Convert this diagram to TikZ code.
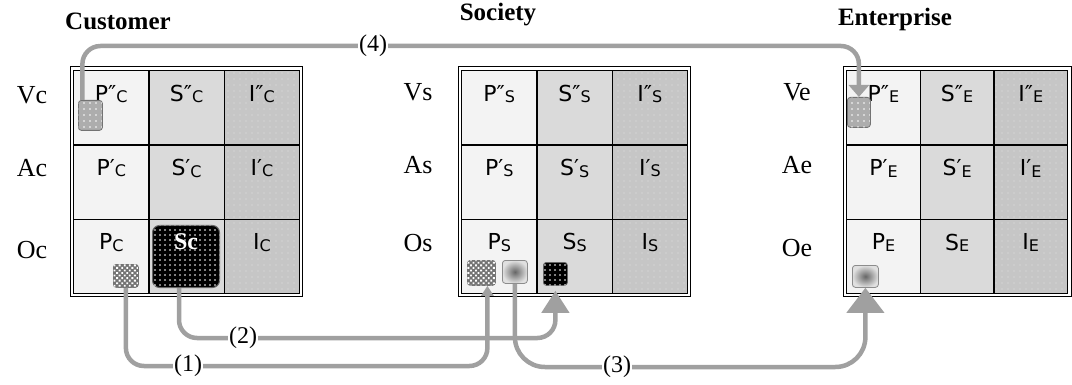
\documentclass[tikz,border=0pt]{standalone}
\usepackage{fontspec}
\setmainfont{Liberation Serif}
\newfontfamily\cellfont{DejaVu Sans}
\usetikzlibrary{arrows.meta,patterns.meta}
\definecolor{cP}{HTML}{F3F3F3}
\definecolor{cS}{HTML}{DADADA}
\definecolor{cI}{HTML}{C6C6C6}
\definecolor{cDot}{HTML}{E2E2E2}
\definecolor{connc}{HTML}{A0A0A0}
\definecolor{boxg}{HTML}{ADADAD}
\newcommand{\sbx}[1]{\raisebox{-1.5pt}{\fontsize{16}{16}\selectfont #1}}
\tikzset{
  frame/.style={draw=black, line width=0.9pt, fill=white, inner sep=0, anchor=north west},
  cellbase/.style={draw=black, line width=1.2pt, inner sep=0, anchor=north west},
  pcell/.style={cellbase, fill=cP},
  scell/.style={cellbase, fill=cS},
  icell/.style={cellbase, fill=cI, postaction={pattern={Dots[distance=6pt,radius=0.6pt]}, pattern color=cDot}, postaction={draw=black, line width=1.2pt}},
  ctext/.style={font=\cellfont\fontsize{22}{22}\selectfont, inner sep=0},
  rlab/.style={font=\fontsize{26}{26}\selectfont, inner sep=0},
  hdr/.style={font=\bfseries\fontsize{25}{25}\selectfont, inner sep=0},
  lab/.style={fill=white, inner sep=1pt, font=\fontsize{24}{24}\selectfont},
  smallbox/.style={inner sep=0, rounded corners=3pt, draw=black!55, line width=0.8pt, anchor=north west},
  dotbox/.style={smallbox, fill=boxg, postaction={pattern={Dots[distance=6pt,radius=0.9pt]}, pattern color=white}},
  hatchbox/.style={smallbox, fill=black!55, postaction={pattern={Dots[distance=3.6pt,radius=1.3pt,angle=45]}, pattern color=white}},
  gradbox/.style={smallbox, draw=black!45, inner color=black!60, outer color=black!12},
  blkbox/.style={smallbox, draw=black!60, fill=black, postaction={pattern={Dots[distance=5pt,radius=0.8pt]}, pattern color=white}},
  scbox/.style={inner sep=0, rounded corners=7pt, draw=black!60, line width=1pt, fill=black, anchor=north west, postaction={pattern={Dots[distance=5pt,radius=0.8pt]}, pattern color=white}},
  conn/.style={draw=connc, line width=4.5pt, rounded corners=18pt},
}
\newcommand{\mygrid}[5]{%
  \node[frame, minimum width={3*#3+7}, minimum height={3*74.33+7}] (#1F) at ({#2-3.5},66.5) {};
  \foreach \r/\pr in {0/{″},1/{′},2/{}} {
    \foreach \c/\L/\sty in {0/P/pcell,1/S/scell,2/I/icell} {
      \node[\sty, minimum width=#3, minimum height=74.33] (#1\L\r) at ({#2+\c*#3},{70+\r*74.33}) {};
      \pgfmathtruncatemacro\idx{\r*3+\c}
      \ifnum\idx=#5\relax\else
        \node[ctext] (#1\L\r t) at ([yshift=-24pt]#1\L\r.north) {\L\pr\sbx{#4}};
      \fi
    }
  }
}
\begin{document}
\begin{tikzpicture}[x=1pt,y=-1pt]
\useasboundingbox (0,0) rectangle (1072,385);
% headers
\node[hdr] (hC) at (118,21) {Customer};
\node[hdr] (hS) at (498,15) {Society};
\node[hdr] (hE) at (895,19) {Enterprise};
% row labels
\node[rlab] (lVc) at (32,95) {Vc};
\node[rlab] (lAc) at (32,168) {Ac};
\node[rlab] (lOc) at (32,250) {Oc};
\node[rlab] (lVs) at (418,92) {Vs};
\node[rlab] (lAs) at (418,165) {As};
\node[rlab] (lOs) at (418,243) {Os};
\node[rlab] (lVe) at (797,92) {Ve};
\node[rlab] (lAe) at (797,165) {Ae};
\node[rlab] (lOe) at (797,248) {Oe};
% grids
\mygrid{C}{73}{75.33}{C}{7}
\mygrid{S}{461}{75.33}{S}{-1}
\mygrid{E}{846}{73.67}{E}{-1}
% special boxes
\node[scbox, minimum width=67, minimum height=62] (bSc) at (152,225) {};
\node[font=\bfseries\fontsize{24}{24}\selectfont, text=white, inner sep=0] (tSc) at ([yshift=-17pt]bSc.north) {Sc};
\node[dotbox, minimum width=24, minimum height=30] (bCv) at (78,100) {};
\node[dotbox, minimum width=23, minimum height=30] (bEv) at (847,97) {};
\node[hatchbox, minimum width=25, minimum height=23] (bPc) at (113,264) {};
\node[hatchbox, minimum width=28, minimum height=25] (bPs1) at (467,260) {};
\node[gradbox, minimum width=25, minimum height=23] (bPs2) at (502,260) {};
\node[blkbox, minimum width=24, minimum height=23] (bSs) at (543,262) {};
\node[gradbox, minimum width=26, minimum height=22] (bPE) at (852,265) {};
% connectors
\coordinate (c4) at (373,46);
\coordinate (c1) at (188,366);
\coordinate (c2) at (243,338);
\coordinate (c3) at (617,367);
\draw[conn, -{Triangle[width=20pt,length=12pt]}] ([xshift=-8pt]bCv.north) |- (c4) -| (bEv.north);
\draw[conn, -{Triangle[width=12pt,length=10pt]}] (bPc.south) |- (c1) -| ([xshift=6pt]bPs1.south);
\draw[conn, -{Triangle[width=27pt,length=22pt]}] ([xshift=-7pt]bSc.south) |- (c2) -| ([yshift=-5pt]bSs.south);
\draw[conn, rounded corners=30pt, -{Triangle[width=37pt,length=25pt]}] (bPs2.south) |- (c3) -| (bPE.south);
\node[lab] (l4) at (c4) {(4)};
\node[lab] (l1) at (c1) {(1)};
\node[lab] (l2) at (c2) {(2)};
\node[lab] (l3) at (c3) {(3)};
\end{tikzpicture}
\end{document}
